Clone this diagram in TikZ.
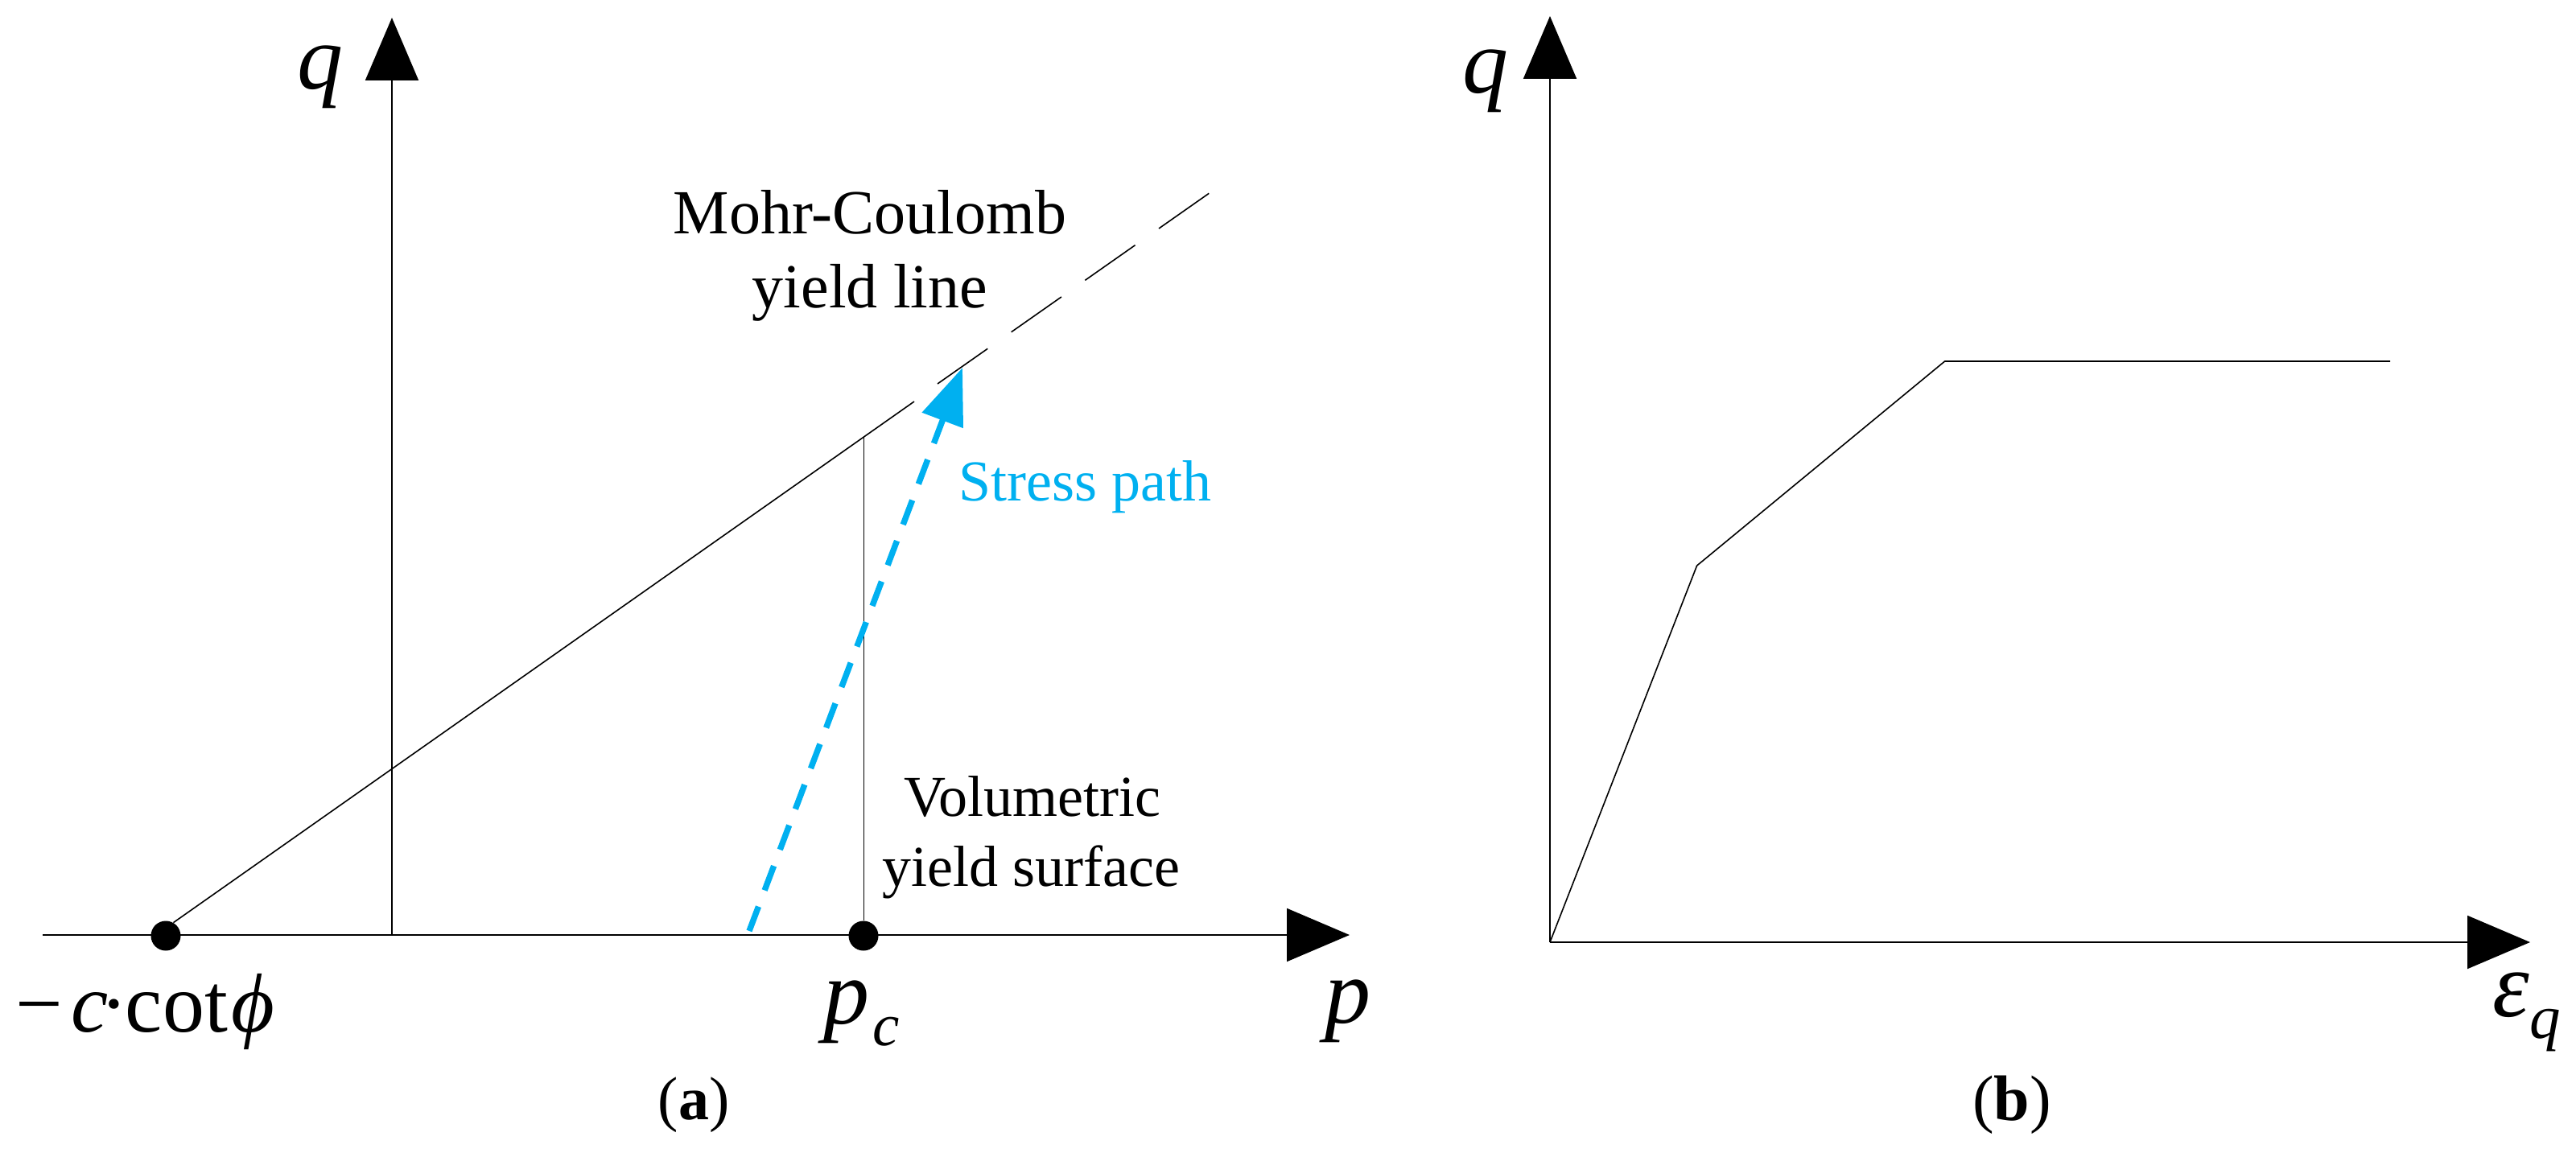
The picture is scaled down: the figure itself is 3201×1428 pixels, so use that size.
\documentclass[tikz,border=0pt]{standalone}
\usepackage{fontspec}
\setmainfont{Liberation Serif}
\usetikzlibrary{arrows.meta}
\definecolor{pathblue}{HTML}{00B0F0}
\newcommand{\fsz}[1]{\fontsize{#1}{#1}\selectfont}
\tikzset{
  x=0.5pt,y=-0.5pt,
  axisline/.style={line width=1pt,black,-{Triangle[length=39pt,width=33pt]}},
  thinline/.style={line width=0.8pt,black},
  hairline/.style={line width=0.5pt,black},
  pathline/.style={line width=3.7pt,pathblue,dash pattern=on 16.2pt off 10.8pt,-{Triangle[length=35pt,width=26.5pt]}},
  ptdot/.style={circle,fill=black,inner sep=0pt,minimum size=18.5pt},
  lab/.style={inner sep=0pt,anchor=base,text=black},
  labw/.style={inner sep=0pt,anchor=base west,text=black},
}
\begin{document}
\begin{tikzpicture}
\useasboundingbox (0,0) rectangle (3201,1428);
% panel (a)
\coordinate (pstart) at (53,1162);
\coordinate (ptip) at (1677,1162);
\coordinate (qbase) at (487,1162);
\coordinate (qtip) at (487,22);
\node[ptdot] (dotA) at (206,1163) {};
\node[ptdot] (dotB) at (1073,1163) {};
\coordinate (mcEnd) at (1136,499);
\coordinate (mcDash) at (1165,477);
\coordinate (mcTip) at (1507,237);
\coordinate (surfTop) at (1073,543);
\coordinate (spStart) at (931,1157);
\coordinate (spTip) at (1196,457);
\draw[axisline] (pstart) -- (ptip);
\draw[axisline] (qbase) -- (qtip);
\draw[thinline] (dotA.60) -- (mcEnd);
\draw[thinline,dash pattern=on 38pt off 18pt] (mcDash) -- (mcTip);
\draw[hairline] (dotB) -- (surfTop);
\draw[pathline] (spStart) -- (spTip);
\node[labw] (qa) at (369,111) {\fsz{57}\itshape q};
\node[labw] (pa) at (1646,1271) {\fsz{57}\itshape p};
\node[labw] (pc) at (1023,1272) {\fsz{57}\itshape p\kern2pt\raisebox{-13.5pt}{\fsz{37.5}c}};
\node[labw] (cot) at (19,1282) {\fsz{52}−\kern5pt{\itshape c}\kern-5pt·\kern-1.5pt cot\kern2.5pt{\itshape ϕ}};
\node[lab] (mc1) at (1081,291) {\fsz{39}Mohr-Coulomb};
\node[lab] (mc2) at (1081,383) {\fsz{39}yield line};
\node[labw] (sp) at (1191,622) {\textcolor{pathblue}{\fsz{36}Stress path}};
\node[lab] (vs1) at (1283,1014) {\fsz{36}Volumetric};
\node[lab] (vs2) at (1281,1101) {\fsz{36}yield surface};
\node[lab] (capa) at (862,1391) {\fsz{38}(\textbf{a})};
% panel (b)
\coordinate (o2) at (1926,1171);
\coordinate (xtip2) at (3144,1171);
\coordinate (ytip2) at (1926,20);
\coordinate (b1) at (2108.6,703);
\coordinate (b2) at (2416.6,449);
\coordinate (b3) at (2970,449);
\draw[axisline] (o2) -- (xtip2);
\draw[axisline] (o2) -- (ytip2);
\draw[thinline] (o2) -- (b1) -- (b2) -- (b3);
\node[labw] (qb) at (1817,116) {\fsz{57}\itshape q};
\node[labw] (eq) at (3097,1263) {\fsz{58}\itshape ε\kern0pt\raisebox{-13.5pt}{\fsz{38.5}q}};
\node[lab] (capb) at (2500,1392) {\fsz{40}(\textbf{b})};
\end{tikzpicture}
\end{document}
